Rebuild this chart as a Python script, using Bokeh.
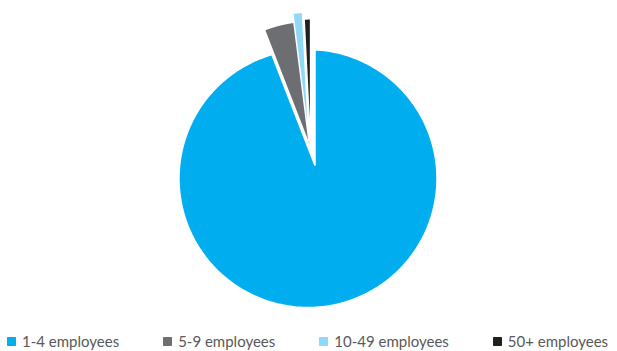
import numpy as np
from bokeh.plotting import figure
from bokeh.models import ColumnDataSource, Range1d, Legend, LegendItem
from bokeh.embed import file_html
from bokeh.resources import INLINE

# ---- data ----
categories = ["1-4 employees", "5-9 employees", "10-49 employees", "50+ employees"]
shares = [94.1, 3.9, 1.2, 0.8]

# ---- style / layout ----
colors = ["#00AEEF", "#6D6E71", "#8FD8F7", "#231F20"]
explode = [0.0, 15.9, 25.0, 18.2]        # distance each slice is pulled out
EXPLODE_DIR = 346.0                       # direction of pull (deg, clockwise from top)
W, H = 617, 351
PIE_ORIGIN = (314.5, H - 165)             # vertex of the pie
MAIN_ARC_SHIFT = (-7.0, -13.0)            # arc centre offset of the large slice
RADIUS = 129

vals = np.array(shares, dtype=float)
frac = vals / vals.sum()
cum_end = np.cumsum(frac) * 360.0
cum_start = cum_end - frac * 360.0


def ray_hit(vx, vy, cx, cy, r, theta_deg):
    t = np.radians(theta_deg)
    d = np.array([np.sin(t), np.cos(t)])
    w = np.array([vx - cx, vy - cy])
    b = w @ d
    c = w @ w - r * r
    s = -b + np.sqrt(b * b - c)
    px, py = vx + s * d[0], vy + s * d[1]
    return np.degrees(np.arctan2(px - cx, py - cy))


xs, ys = [], []
ed = np.radians(EXPLODE_DIR)
for i in range(len(vals)):
    vx = PIE_ORIGIN[0] + explode[i] * np.sin(ed)
    vy = PIE_ORIGIN[1] + explode[i] * np.cos(ed)
    if i == 0:
        cx, cy = vx + MAIN_ARC_SHIFT[0], vy + MAIN_ARC_SHIFT[1]
    else:
        cx, cy = vx, vy
    a0 = ray_hit(vx, vy, cx, cy, RADIUS, cum_start[i])
    a1 = ray_hit(vx, vy, cx, cy, RADIUS, cum_end[i])
    while a1 <= a0:
        a1 += 360.0
    ang = np.radians(np.linspace(a0, a1, 240))
    xs.append(np.concatenate([[vx], cx + RADIUS * np.sin(ang)]))
    ys.append(np.concatenate([[vy], cy + RADIUS * np.cos(ang)]))

src = ColumnDataSource(dict(xs=xs, ys=ys, color=colors, label=categories))

p = figure(width=W, height=H, x_range=Range1d(0, W), y_range=Range1d(0, H),
           x_axis_location=None, y_axis_location=None,
           toolbar_location=None, output_backend="svg", min_border=0)
p.grid.visible = False
p.outline_line_color = None
p.background_fill_color = "white"
p.border_fill_color = "white"

p.patches(xs="xs", ys="ys", fill_color="color", line_color="white",
          line_width=1.5, source=src)

items = []
for cat, col in zip(categories, colors):
    r = p.scatter(x=[np.nan], y=[np.nan], marker="square", size=8,
                  fill_color=col, line_color=col)
    items.append(LegendItem(label=cat, renderers=[r]))

legend = Legend(items=items, orientation="horizontal", location=(1, 0),
                padding=0, margin=0, spacing=38, glyph_width=20, glyph_height=20,
                label_standoff=1, label_height=20,
                label_text_font="Lato", label_text_font_size="15px",
                label_text_color="#58595B",
                border_line_color=None, background_fill_alpha=0)
p.add_layout(legend, "center")

open("out.html", "w").write(file_html(p, INLINE))
